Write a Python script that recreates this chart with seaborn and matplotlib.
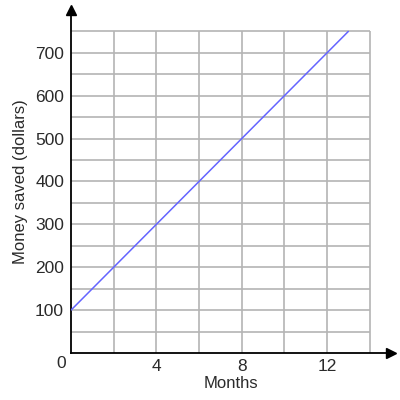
import numpy as np
import pandas as pd
import seaborn as sns
import matplotlib.pyplot as plt

months = [0, 2, 4, 6, 8, 10, 12, 13]
saved = [100, 200, 300, 400, 500, 600, 700, 750]

x_ticks = [4, 8, 12]
y_ticks = [100, 200, 300, 400, 500, 600, 700]
x_grid = [2, 4, 6, 8, 10, 12, 14]
y_grid = [50, 100, 150, 200, 250, 300, 350, 400, 450, 500, 550, 600, 650, 700, 750]

sns.set_style('white')
plt.rcParams['font.family'] = ['Liberation Sans', 'DejaVu Sans']

fig = plt.figure(figsize=(4, 4), dpi=100)
ax = fig.add_axes([0.1775, 0.1175, 0.8, 0.8575])
ax.set_xlim(0, 15)
ax.set_ylim(0, 800)

# grid only inside the plotted area
ax.vlines(x_grid, 0, 750, color='#b4b4b4', lw=1.2, zorder=1)
ax.hlines(y_grid, 0, 14, color='#b4b4b4', lw=1.2, zorder=1)

df = pd.DataFrame({'Months': months, 'Saved': saved})
sns.lineplot(data=df, x='Months', y='Saved', color='#6464ff', lw=1.1, ax=ax, zorder=3)

for s in ['top', 'right']:
    ax.spines[s].set_visible(False)
for s in ['left', 'bottom']:
    ax.spines[s].set_color('black')
    ax.spines[s].set_linewidth(1.3)

# arrow heads
ax.plot(1, 0, '>', color='black', ms=7, transform=ax.transAxes, clip_on=False)
ax.plot(0, 1, '^', color='black', ms=7, transform=ax.transAxes, clip_on=False)

ax.set_xticks(x_ticks)
ax.set_yticks(y_ticks)
ax.tick_params(axis='x', length=0, labelsize=12.5, colors='#2a2a2a', pad=4)
ax.tick_params(axis='y', length=0, labelsize=12.5, colors='#2a2a2a', pad=5)
ax.text(-0.45, -24, '0', fontsize=12.5, color='#2a2a2a', ha='center', va='center', clip_on=False)

ax.set_xlabel('Months', fontsize=12, color='#2a2a2a', labelpad=2)
ax.set_ylabel('Money saved (dollars)', fontsize=12, color='#2a2a2a', labelpad=5)

fig.savefig('out.png', dpi=100)
